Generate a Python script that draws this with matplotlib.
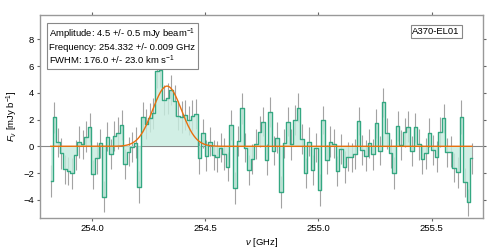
import numpy as np
import matplotlib
matplotlib.use('Agg')
from matplotlib import pyplot as plt

plt.rcParams['font.family'] = ['Liberation Sans', 'DejaVu Sans']
plt.rcParams['mathtext.fontset'] = 'custom'
plt.rcParams['mathtext.rm'] = 'Liberation Sans'
plt.rcParams['mathtext.it'] = 'Liberation Sans:italic'
plt.rcParams['font.size'] = 6.8

# Spectral axis: 120 ALMA channels of 15.625 MHz
nu_start = 253.8185
chan_width = 0.015625
n_chan = 120

# Flux per channel (mJy/beam)
flux = [-2.6, 2.17, 0.3, -0.53, -1.72, -1.82, -2.02, -0.65, 0.3, 0.15,
        0.72, 1.42, -2.1, -0.9, 0.22, -3.77, 0.72, -0.58, 0.77, 0.97,
        1.6, -1.33, -0.4, -0.05, 0.28, -3.07, 2.2, 1.67, 2.15, 2.46,
        5.6, 5.7, 3.45, 3.6, 4.2, 3.4, 2.3, 2.2, 2.35, 1.95,
        2.3, 2.4, -0.9, 0.97, -0.7, 0.35, -0.65, -0.77, -0.1, -0.58,
        -1.52, 1.6, -3.14, 0.4, 2.84, -0.1, -1.77, -0.95, 0.17, 1.1,
        1.84, -1.0, 2.54, -0.33, 0.65, -3.4, 0.22, 1.84, 0.15, 2.0,
        2.9, 0.55, -2.0, 0.35, -1.77, -0.1, -3.27, 1.97, -1.0, 0.35,
        0.2, -1.85, -0.2, -1.52, -0.77, -0.82, -0.58, 1.92, -0.28, -0.7,
        0.22, -0.6, 1.72, -0.33, 3.28, 0.97, -0.53, -1.97, 1.52, 0.1,
        1.04, 1.47, -0.35, 1.42, 0.15, -0.97, -0.53, 1.02, -0.27, -0.77,
        1.07, 2.09, -0.45, -0.4, -1.6, -1.95, 2.19, -2.7, -4.19, -0.9]

# 1-sigma errors per channel
flux_err = [1.22, 1.15, 1.1, 1.15, 1.1, 1.05, 1.15, 1.1, 1.2, 1.1,
            1.15, 1.1, 1.1, 1.2, 1.1, 1.15, 1.1, 1.15, 1.1, 1.2,
            1.1, 1.15, 1.1, 1.1, 1.15, 1.2, 1.1, 1.15, 1.1, 1.15,
            1.25, 1.25, 1.1, 1.15, 1.1, 1.15, 1.1, 1.2, 1.1, 1.1,
            1.15, 1.1, 1.2, 1.1, 1.15, 1.1, 1.1, 1.15, 1.1, 1.2,
            1.1, 1.15, 1.2, 1.1, 1.15, 1.1, 1.1, 1.15, 1.1, 1.15,
            1.1, 1.15, 1.12, 1.1, 1.15, 1.2, 1.1, 1.1, 1.15, 1.12,
            1.05, 1.1, 1.15, 1.1, 1.15, 1.1, 1.2, 1.07, 1.1, 1.15,
            1.1, 1.15, 1.1, 1.2, 1.1, 1.1, 1.15, 1.05, 1.1, 1.15,
            1.1, 1.15, 1.1, 1.1, 1.07, 1.15, 1.1, 1.2, 1.1, 1.15,
            1.1, 1.15, 1.1, 1.1, 1.15, 1.1, 1.15, 1.1, 1.1, 1.15,
            1.1, 1.07, 1.1, 1.15, 1.1, 1.15, 1.25, 1.1, 1.0, 1.15]

# Gaussian fit parameters (from the annotation)
amp, amp_err = 4.5, 0.5
nu_cen, nu_cen_err = 254.332, 0.009
fwhm_kms, fwhm_err = 176.0, 23.0
source = 'A370-EL01'

nu = nu_start + chan_width * np.arange(n_chan)
flux = np.array(flux)
flux_err = np.array(flux_err)

# Gaussian model
c_kms = 299792.458
sigma = fwhm_kms / c_kms * nu_cen / 2.3548
nu_fine = np.linspace(nu[0], nu[-1], 1000)
model = amp * np.exp(-0.5 * ((nu_fine - nu_cen) / sigma) ** 2)

fig = plt.figure(figsize=(4.98, 2.49), dpi=100)
ax = fig.add_axes([0.0803, 0.1245, 0.8892, 0.8165])

green = '#34a882'
ax.axhline(0, color='#888888', lw=0.8, zorder=0)
ax.errorbar(nu, flux, yerr=flux_err, fmt='none', ecolor='#a3a3a3',
            elinewidth=0.8, capsize=0, zorder=1)
ax.fill_between(nu, 0, flux, step='mid', color='#c6ecdf', alpha=0.8,
                lw=0, zorder=2)
ax.step(nu, flux, where='mid', color=green, lw=1.0, zorder=3)
ax.plot(nu_fine, model, color='#e8700e', lw=1.0, zorder=4)

ax.set_xlim(253.771, 255.726)
ax.set_ylim(-5.36, 9.84)
ax.set_xticks([254.0, 254.5, 255.0, 255.5])
ax.set_yticks([-4, -2, 0, 2, 4, 6, 8])
ax.set_xlabel(r'$\nu$ [GHz]', labelpad=2)
ax.set_ylabel(r'$F_\nu$ [mJy b$^{-1}$]', labelpad=2)

for sp in ax.spines.values():
    sp.set_color('#999999')
    sp.set_linewidth(1.0)
ax.tick_params(direction='out', length=2.3, width=0.8, color='#666666',
               top=True, right=True, pad=2)

txt = ('Amplitude: %.1f +/- %.1f mJy beam$^{-1}$\n'
       'Frequency: %.3f +/- %.3f GHz\n'
       'FWHM: %.1f +/- %.1f km s$^{-1}$' % (amp, amp_err, nu_cen, nu_cen_err,
                                            fwhm_kms, fwhm_err))
ax.text(0.021, 0.94, txt, transform=ax.transAxes, va='top', ha='left',
        linespacing=1.15,
        bbox=dict(boxstyle='square,pad=0.2', fc='white', ec='#888888', lw=0.8))
ax.text(0.948, 0.94, source, transform=ax.transAxes, va='top', ha='right',
        bbox=dict(boxstyle='square,pad=0.2', fc='white', ec='#888888', lw=0.8))

fig.savefig('out.png', dpi=100)
